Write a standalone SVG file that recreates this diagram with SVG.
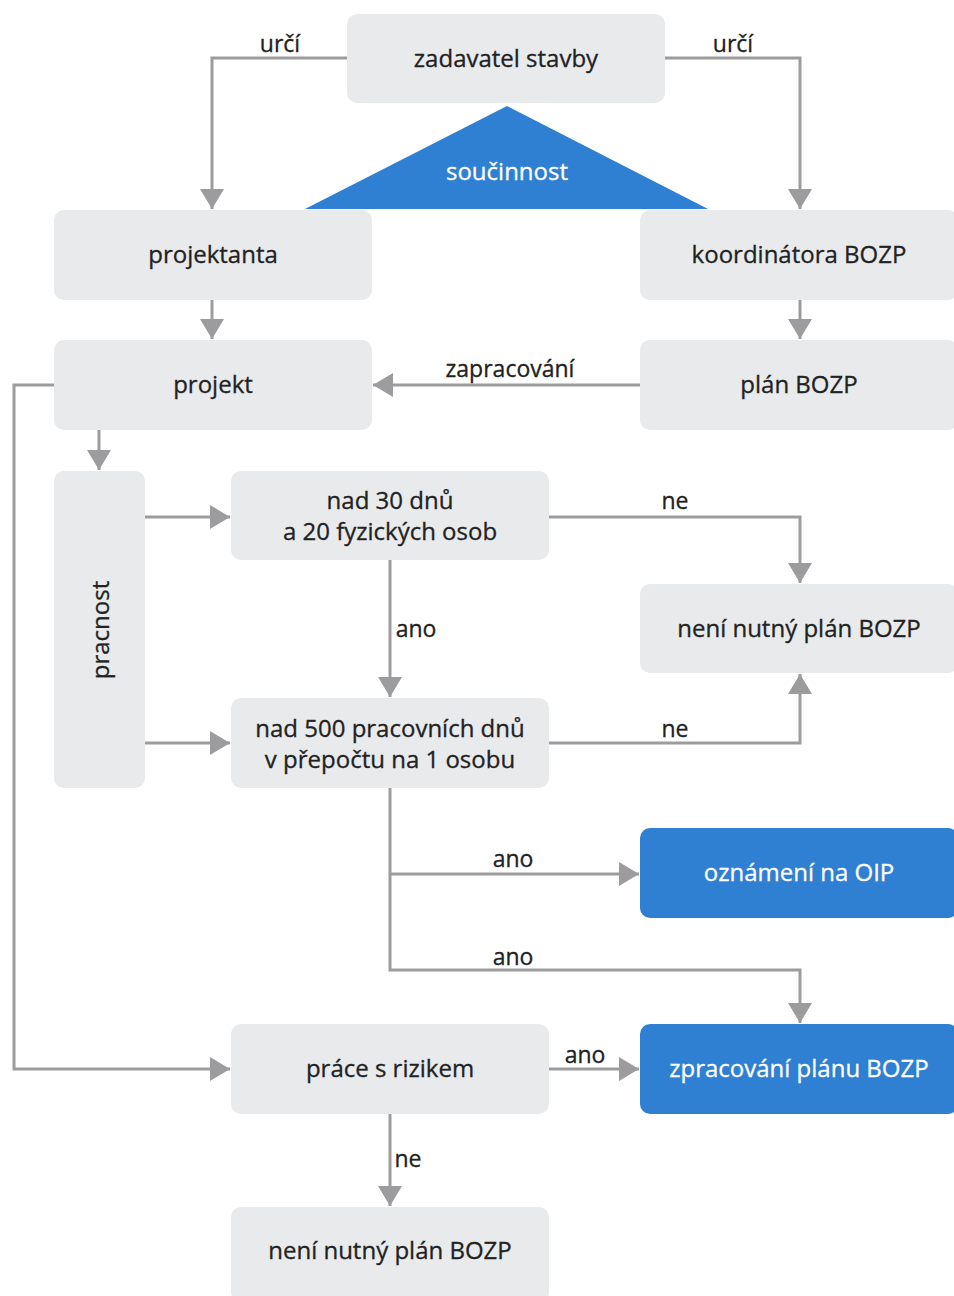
<svg xmlns="http://www.w3.org/2000/svg" width="954" height="1296" viewBox="0 0 954 1296">
<style>
.box{fill:#e9eaec}
.blue{fill:#2f7fd2}
.t{font-family:"Open Sans","Liberation Sans",sans-serif;font-size:24px;fill:#222222;text-anchor:middle;dominant-baseline:central;stroke:#222222;stroke-width:0.3}
.w{fill:#ffffff;stroke:#ffffff}
.lbl{font-family:"Open Sans","Liberation Sans",sans-serif;font-size:23px;fill:#222222;text-anchor:middle;stroke:#222222;stroke-width:0.3}
.c{fill:none;stroke:#9c9c9e;stroke-width:3}
</style>
<defs>
<marker id="ah" markerUnits="userSpaceOnUse" markerWidth="20" markerHeight="24" viewBox="0 0 20 24" refX="20" refY="12" orient="auto">
<path d="M0,0 L20,12 L0,24 Z" fill="#9c9c9e"/>
</marker>
</defs>
<rect width="954" height="1296" fill="#ffffff"/>
<g id="connectors">
<path class="c" d="M347,58 H212 V209" marker-end="url(#ah)"/>
<path class="c" d="M665,58 H800 V209" marker-end="url(#ah)"/>
<path class="c" d="M212,300 V339" marker-end="url(#ah)"/>
<path class="c" d="M800,300 V339" marker-end="url(#ah)"/>
<path class="c" d="M640,385 H373" marker-end="url(#ah)"/>
<path class="c" d="M54,385 H14 V1069 H230" marker-end="url(#ah)"/>
<path class="c" d="M99,430 V470" marker-end="url(#ah)"/>
<path class="c" d="M145,517 H230" marker-end="url(#ah)"/>
<path class="c" d="M145,743 H230" marker-end="url(#ah)"/>
<path class="c" d="M549,517 H800 V583" marker-end="url(#ah)"/>
<path class="c" d="M390,560 V697" marker-end="url(#ah)"/>
<path class="c" d="M549,743 H800 V674" marker-end="url(#ah)"/>
<path class="c" d="M390,788 V970 H800 V1023" marker-end="url(#ah)"/>
<path class="c" d="M390,874 H639" marker-end="url(#ah)"/>
<path class="c" d="M549,1069 H639" marker-end="url(#ah)"/>
<path class="c" d="M390,1114 V1206" marker-end="url(#ah)"/>
<text class="lbl" x="280" y="52">určí</text>
<text class="lbl" x="733" y="52">určí</text>
<text class="lbl" x="510" y="377">zapracování</text>
<text class="lbl" x="675" y="509">ne</text>
<text class="lbl" x="416" y="637">ano</text>
<text class="lbl" x="675" y="737">ne</text>
<text class="lbl" x="513" y="867">ano</text>
<text class="lbl" x="513" y="965">ano</text>
<text class="lbl" x="585" y="1063">ano</text>
<text class="lbl" x="408" y="1167">ne</text>
</g>
<g id="zadavatel"><rect class="box" x="347" y="14" width="318" height="89" rx="10"/><text class="t" x="506" y="57">zadavatel stavby</text></g>
<g id="soucinnost"><polygon class="blue" points="507,106 708,209 305,209"/><text class="t w" x="507" y="170">součinnost</text></g>
<g id="projektanta"><rect class="box" x="54" y="210" width="318" height="90" rx="10"/><text class="t" x="213" y="253">projektanta</text></g>
<g id="koordinatora"><rect class="box" x="640" y="210" width="318" height="90" rx="10"/><text class="t" x="799" y="253">koordinátora BOZP</text></g>
<g id="projekt"><rect class="box" x="54" y="340" width="318" height="90" rx="10"/><text class="t" x="213" y="383">projekt</text></g>
<g id="plan"><rect class="box" x="640" y="340" width="318" height="90" rx="10"/><text class="t" x="799" y="383">plán BOZP</text></g>
<g id="pracnost"><rect class="box" x="54" y="471" width="91" height="317" rx="10"/><text class="t" x="0" y="0" transform="translate(99,630) rotate(-90)">pracnost</text></g>
<g id="nad30"><rect class="box" x="231" y="471" width="318" height="89" rx="10"/><text class="t" x="390" y="499">nad 30 dnů</text><text class="t" x="390" y="530">a 20 fyzických osob</text></g>
<g id="neni1"><rect class="box" x="640" y="584" width="318" height="89" rx="10"/><text class="t" x="799" y="627">není nutný plán BOZP</text></g>
<g id="nad500"><rect class="box" x="231" y="698" width="318" height="90" rx="10"/><text class="t" x="390" y="727">nad 500 pracovních dnů</text><text class="t" x="390" y="758">v přepočtu na 1 osobu</text></g>
<g id="oznameni"><rect class="blue" x="640" y="828" width="318" height="90" rx="10"/><text class="t w" x="799" y="871">oznámení na OIP</text></g>
<g id="zpracovani"><rect class="blue" x="640" y="1024" width="318" height="90" rx="10"/><text class="t w" x="799" y="1067">zpracování plánu BOZP</text></g>
<g id="prace"><rect class="box" x="231" y="1024" width="318" height="90" rx="10"/><text class="t" x="390" y="1067">práce s rizikem</text></g>
<g id="neni2"><rect class="box" x="231" y="1207" width="318" height="95" rx="10"/><text class="t" x="390" y="1249">není nutný plán BOZP</text></g>
</svg>
